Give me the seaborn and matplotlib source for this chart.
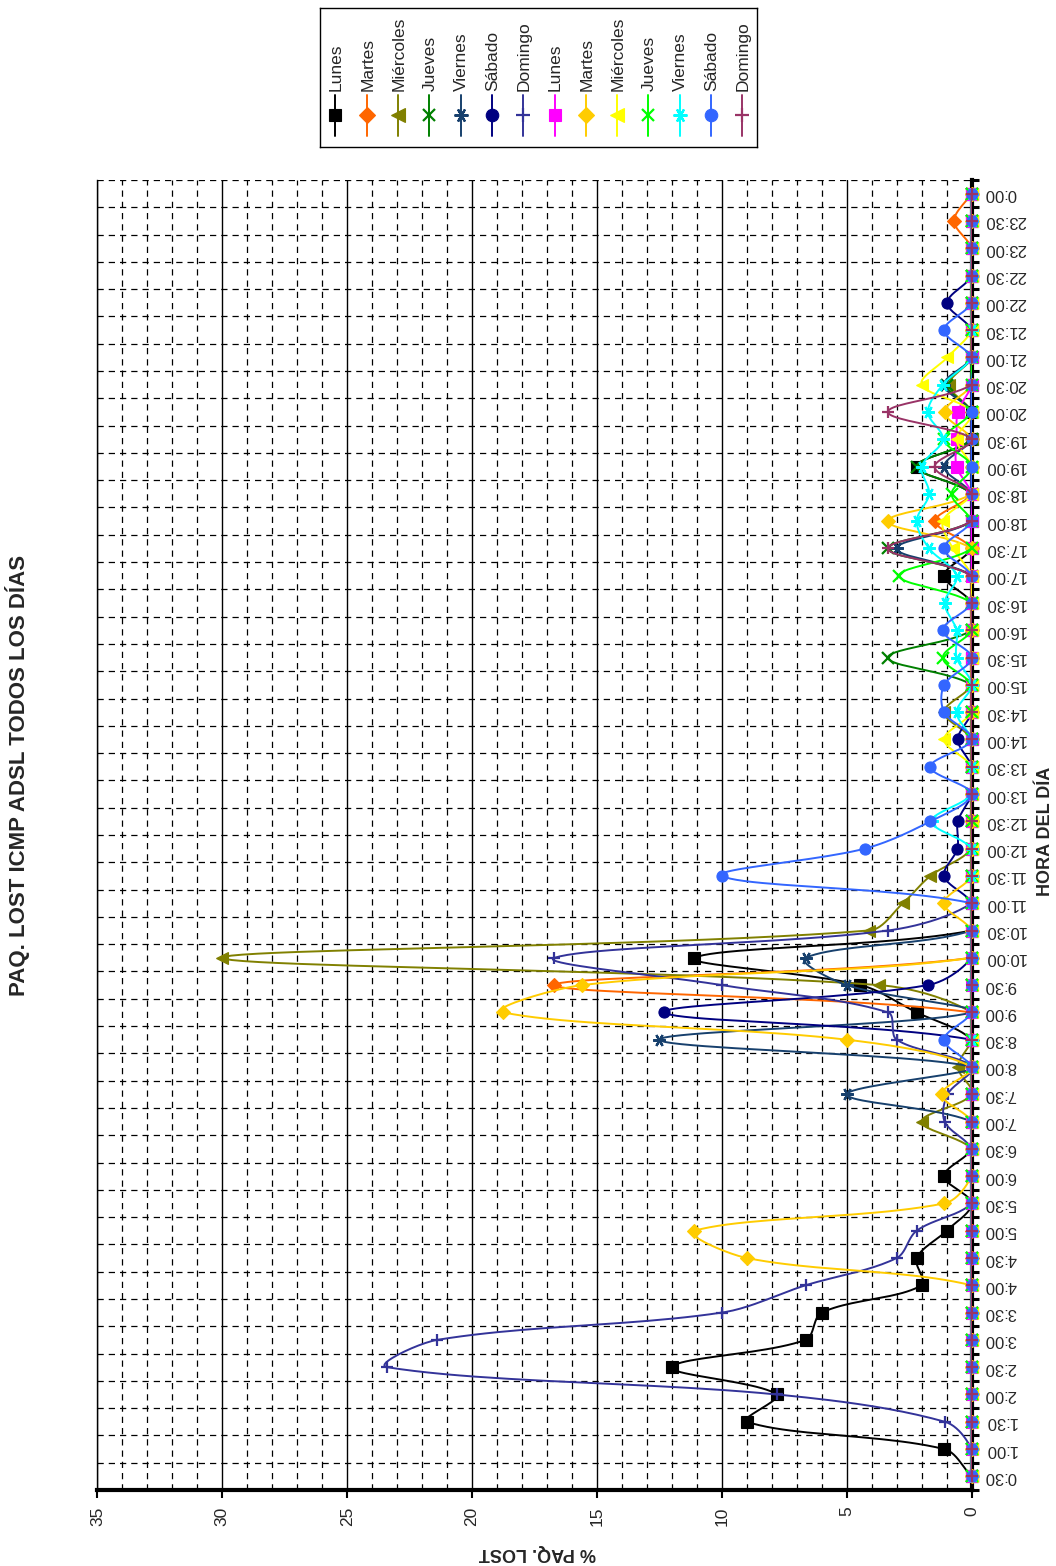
import numpy as np
import matplotlib
matplotlib.use("Agg")
import matplotlib.pyplot as plt
import seaborn as sns

# Half-hour slots of the day, 0:30 through midnight
horas = ["0:30", "1:00", "1:30", "2:00", "2:30", "3:00", "3:30", "4:00", "4:30", "5:00",
         "5:30", "6:00", "6:30", "7:00", "7:30", "8:00", "8:30", "9:00", "9:30", "10:00",
         "10:30", "11:00", "11:30", "12:00", "12:30", "13:00", "13:30", "14:00", "14:30", "15:00",
         "15:30", "16:00", "16:30", "17:00", "17:30", "18:00", "18:30", "19:00", "19:30", "20:00",
         "20:30", "21:00", "21:30", "22:00", "22:30", "23:00", "23:30", "0:00"]

# % packets lost per slot, first week
lunes = [0, 1.1, 9.0, 7.8, 12.0, 6.65, 6.0, 2.0, 2.2, 1.0, 0, 1.1,
         0, 0, 0, 0, 0, 2.2, 4.45, 11.1, 0, 0, 0, 0,
         0, 0, 0, 0, 0, 0, 0, 0, 0, 1.1, 0, 0,
         0, 2.2, 0, 0, 0, 0, 0, 0, 0, 0, 0, 0]
martes = [0, 0, 0, 0, 0, 0, 0, 0, 0, 0, 0, 0,
          0, 0, 0, 0, 0, 0, 16.7, 0, 0, 0, 0, 0,
          0, 0, 0, 0, 0, 0, 0, 0, 0, 0, 0, 1.45,
          0, 0, 0, 0, 0, 0, 0, 0, 0, 0, 0.7, 0]
miercoles = [0, 0, 0, 0, 0, 0, 0, 0, 0, 0, 0, 0,
             0, 2.0, 0, 0.55, 0, 0, 3.7, 30.0, 4.1, 2.75, 1.65, 0,
             0, 0, 0, 0, 1.1, 0, 0, 0, 0, 0, 0, 0,
             0, 0, 0, 0, 0.9, 0, 0, 0, 0, 0, 0, 0]
jueves = [0, 0, 0, 0, 0, 0, 0, 0, 0, 0, 0, 0,
          0, 0, 0, 0, 0, 0, 0, 0, 0, 0, 0, 0,
          0, 0, 0, 0, 0, 0, 3.35, 0, 0, 0, 3.35, 0,
          0, 2.2, 0, 0, 1.0, 0, 0, 0, 0, 0, 0, 0]
viernes = [0, 0, 0, 0, 0, 0, 0, 0, 0, 0, 0, 0,
           0, 0, 5.0, 0, 12.5, 0, 5.0, 6.65, 0, 0, 0, 0,
           0, 0, 0, 0, 0, 0, 0, 0, 0, 0, 3.0, 0,
           0, 1.1, 0, 0, 1.1, 0, 0, 0, 0, 0, 0, 0]
sabado = [0, 0, 0, 0, 0, 0, 0, 0, 0, 0, 0, 0,
          0, 0, 0, 0, 0, 12.3, 1.75, 0, 0, 0, 1.1, 0.57,
          0.55, 0, 0, 0.55, 0, 0, 0, 0, 0, 0, 0, 0,
          0, 0, 0, 0, 0, 0, 0, 0.97, 0, 0, 0, 0]
domingo = [0, 0, 1.07, 7.8, 23.4, 21.4, 10.0, 6.65, 3.0, 2.2, 0, 0,
           0, 1.08, 0.96, 0, 3.0, 3.35, 10.0, 16.7, 3.35, 0, 0, 0,
           0, 0, 0, 0, 0, 0, 0, 0, 0, 0, 0, 0,
           0, 0, 0, 0, 0, 0, 0, 0, 0, 0, 0, 0]

# % packets lost per slot, second week
lunes2 = [0, 0, 0, 0, 0, 0, 0, 0, 0, 0, 0, 0,
          0, 0, 0, 0, 0, 0, 0, 0, 0, 0, 0, 0,
          0, 0, 0, 0, 0, 0, 0, 0, 0, 0, 0, 0,
          0, 0.6, 0.6, 0.55, 0, 0, 0, 0, 0, 0, 0, 0]
martes2 = [0, 0, 0, 0, 0, 0, 0, 0, 9.0, 11.1, 1.1, 0,
           0, 0, 1.2, 0, 5.0, 18.75, 15.6, 0, 0, 1.1, 0, 0,
           0, 0, 0, 0, 0, 0, 0, 0, 0, 0, 0, 3.35,
           0, 0, 0, 1.08, 0, 0, 0, 0, 0, 0, 0, 0]
miercoles2 = [0, 0, 0, 0, 0, 0, 0, 0, 0, 0, 0, 0,
              0, 0, 0, 0, 0, 0, 0, 0, 0, 0, 0, 0,
              0, 0, 0, 1.1, 0, 0, 0, 0, 0, 0, 0.75, 1.15,
              0, 0, 0.6, 0, 2.0, 0.97, 0, 0, 0, 0, 0, 0]
jueves2 = [0, 0, 0, 0, 0, 0, 0, 0, 0, 0, 0, 0,
           0, 0, 0, 0, 0, 0, 0, 0, 0, 0, 0, 0,
           0, 0, 0, 0, 0, 0, 1.15, 0, 0, 2.9, 0, 0,
           0.8, 0, 1.1, 0, 0, 0, 0, 0, 0, 0, 0, 0]
viernes2 = [0, 0, 0, 0, 0, 0, 0, 0, 0, 0, 0, 0,
            0, 0, 0, 0, 0, 0, 0, 0, 0, 0, 0, 0,
            1.6, 0, 0, 0, 0.6, 0, 0.6, 0.6, 1.08, 0.6, 1.7, 2.2,
            1.7, 2.0, 1.15, 1.75, 1.15, 0, 0, 0, 0, 0, 0, 0]
sabado2 = [0, 0, 0, 0, 0, 0, 0, 0, 0, 0, 0, 0,
           0, 0, 0, 0, 1.1, 0, 0, 0, 0, 0, 10.0, 4.28,
           1.65, 0, 1.65, 0, 1.1, 1.1, 0, 1.15, 0, 0, 1.1, 0,
           0, 0, 0, 0, 0, 0, 1.1, 0, 0, 0, 0, 0]
domingo2 = [0, 0, 0, 0, 0, 0, 0, 0, 0, 0, 0, 0,
            0, 0, 0, 0, 0, 0, 0, 0, 0, 0, 0, 0,
            0, 0, 0, 0, 0, 0, 0, 0, 0, 0, 3.35, 0,
            0, 1.48, 0, 3.35, 0, 0, 0, 0, 0, 0, 0, 0]

nombres = ["Lunes", "Martes", "Miércoles", "Jueves", "Viernes", "Sábado", "Domingo",
           "Lunes", "Martes", "Miércoles", "Jueves", "Viernes", "Sábado", "Domingo"]
series = [lunes, martes, miercoles, jueves, viernes, sabado, domingo,
          lunes2, martes2, miercoles2, jueves2, viernes2, sabado2, domingo2]

# Styles: colour, marker, marker size
estilos = [
    ("#000000", "s", 8), ("#FF6600", "D", 7), ("#808000", "<", 9), ("#008000", "x", 8),
    ("#17406D", (6, 2, 90), 9), ("#000080", "o", 8), ("#333399", "+", 9),
    ("#FF00FF", "s", 8), ("#FFCC00", "D", 7), ("#FFFF00", "<", 9), ("#00FF00", "x", 8),
    ("#00FFFF", (6, 2, 90), 9), ("#3366FF", "o", 8), ("#993366", "+", 9),
]

sns.set_theme(style="white")
plt.rcParams["font.family"] = ["Liberation Sans", "DejaVu Sans"]

W, H = 1056, 1566
fig = plt.figure(figsize=(W / 100, H / 100), dpi=100)
fig.patch.set_facecolor("white")

AX_L, AX_R, AX_T, AX_B = 97.4, 971.6, 180.0, 1490.0
ax = fig.add_axes([AX_L / W, 1 - AX_B / H, (AX_R - AX_L) / W, (AX_B - AX_T) / H])
ax.set_facecolor("white")

VMAX = 35
n = len(horas)
ax.set_xlim(VMAX, 0)
ax.set_ylim(-0.5, n - 0.5)

px_val = (AX_R - AX_L) / VMAX
px_cat = (AX_B - AX_T) / n


def bezier_smooth(vals, idx, steps=24):
    """Smoothed path through the points; tangents weighted by neighbouring
    segment lengths, computed in screen units."""
    P = np.column_stack([np.asarray(vals, float) * px_val, np.asarray(idx, float) * px_cat])
    E = np.vstack([P[0], P, P[-1]])
    parts = []
    t = np.linspace(0, 1, steps)[:, None]
    for i in range(len(P) - 1):
        p0, p1, p2, p3 = E[i], E[i + 1], E[i + 2], E[i + 3]
        d01 = np.linalg.norm(p1 - p0)
        d12 = np.linalg.norm(p2 - p1)
        d23 = np.linalg.norm(p3 - p2)
        w1 = d12 / (d01 + d12) if d01 + d12 > 0 else 0.0
        w2 = d12 / (d12 + d23) if d12 + d23 > 0 else 0.0
        c1 = p1 + (p2 - p0) * w1 / 3.0
        c2 = p2 - (p3 - p1) * w2 / 3.0
        seg = (1 - t) ** 3 * p1 + 3 * (1 - t) ** 2 * t * c1 + 3 * (1 - t) * t ** 2 * c2 + t ** 3 * p2
        parts.append(seg if i == 0 else seg[1:])
    C = np.vstack(parts)
    return C[:, 0] / px_val, C[:, 1] / px_cat


idx = np.arange(n)
for k, (vals, (col, mk, ms)) in enumerate(zip(series, estilos)):
    cx, cy = bezier_smooth(vals, idx)
    sns.lineplot(x=cx, y=cy, sort=False, estimator=None, color=col, lw=1.4,
                 ax=ax, legend=False, zorder=3 + k * 0.02)
    thin = mk in ("x", "+") or isinstance(mk, tuple)
    ax.plot(vals, idx, ls="none", marker=mk, ms=ms, mfc=col, mec=col,
            mew=1.6 if thin else 0.8, clip_on=False, zorder=3.01 + k * 0.02)

# Value axis (bottom): solid majors every 5, dashed minors every 1
ax.set_xticks(np.arange(0, VMAX + 1, 5))
ax.set_xticks(np.arange(0, VMAX + 1, 1), minor=True)
ax.set_xticklabels([str(v) for v in range(0, VMAX + 1, 5)])
ax.grid(which="major", axis="x", color="black", lw=1.0, ls="-")
ax.grid(which="minor", axis="x", color="black", lw=0.9, ls=(0, (5, 4)))

# Time axis (right): labels at slots, ticks and dashed grid between slots
ax.yaxis.tick_right()
ax.set_yticks(idx)
ax.set_yticklabels(horas)
ax.set_yticks(np.arange(-0.5, n, 1.0), minor=True)
ax.grid(which="minor", axis="y", color="black", lw=0.9, ls=(0, (5, 4)))
ax.grid(which="major", axis="y", visible=False)

ax.tick_params(axis="y", which="major", length=0, pad=9, labelsize=12,
               labelright=True, labelleft=False, right=False, left=False)
ax.tick_params(axis="y", which="minor", length=5, width=2.2, direction="out",
               right=True, left=False, color="black")
ax.tick_params(axis="x", which="major", length=6, width=1.5, direction="out",
               bottom=True, pad=6, labelsize=12.5, color="black")
ax.tick_params(axis="x", which="minor", length=0)
for lab in ax.get_yticklabels():
    lab.set_rotation(180)
    lab.set_ha("left")
    lab.set_va("center")
for lab in ax.get_xticklabels():
    lab.set_rotation(90)
    lab.set_va("top")
    lab.set_ha("center")

ax.spines["top"].set_visible(False)
ax.spines["left"].set_color("black")
ax.spines["left"].set_linewidth(1.0)
ax.spines["right"].set_color("black")
ax.spines["right"].set_linewidth(3.0)
ax.spines["bottom"].set_color("black")
ax.spines["bottom"].set_linewidth(3.0)
ax.spines["right"].set_zorder(2.5)

# Titles
fig.text(18 / W, 1 - 775 / H, "PAQ. LOST ICMP ADSL TODOS LOS DÍAS", rotation=90,
         ha="center", va="center", fontsize=16, fontweight="bold")
fig.text(1045 / W, 1 - 831 / H, "HORA DEL DÍA", rotation=90,
         ha="center", va="center", fontsize=13, fontweight="bold")
fig.text(537 / W, 1 - 1553 / H, "% PAQ. LOST", rotation=180,
         ha="center", va="center", fontsize=13, fontweight="bold")

# Legend box with vertical entries
LG_L, LG_T, LG_W, LG_H = 320, 8, 437, 139
lg = fig.add_axes([LG_L / W, 1 - (LG_T + LG_H) / H, LG_W / W, LG_H / H])
lg.set_xlim(0, LG_W)
lg.set_ylim(LG_H, 0)
lg.set_xticks([])
lg.set_yticks([])
lg.set_facecolor("white")
for s in lg.spines.values():
    s.set_visible(True)
    s.set_color("black")
    s.set_linewidth(1.0)
for k, (name, (col, mk, ms)) in enumerate(zip(nombres, estilos)):
    x = 15.4 + k * 31.3
    lg.plot([x, x], [87, 128], color=col, lw=1.4)
    thin = mk in ("x", "+") or isinstance(mk, tuple)
    lg.plot([x], [107], ls="none", marker=mk, ms=ms + 1, mfc=col, mec=col,
            mew=1.6 if thin else 0.8)
    lg.text(x + 1, 83, name, rotation=90, ha="center", va="bottom", fontsize=12.5)

fig.savefig("out.png", dpi=100, facecolor="white")
